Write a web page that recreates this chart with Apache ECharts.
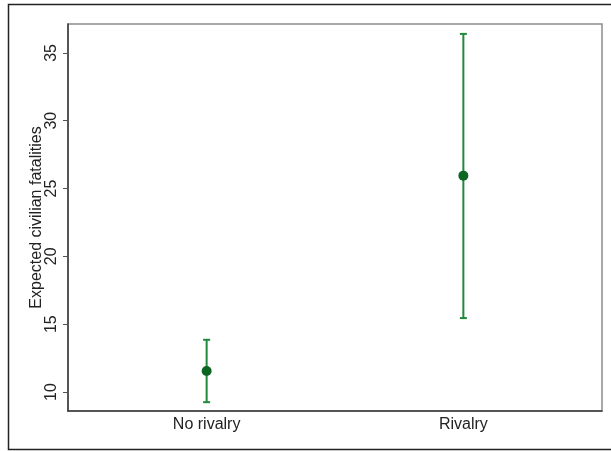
<!DOCTYPE html>
<html>
<head>
<meta charset="utf-8">
<script src="https://cdn.jsdelivr.net/npm/echarts@6/dist/echarts.min.js"></script>
<style>
html,body{margin:0;padding:0;background:#fff;}
#chart{width:611px;height:451px;}
</style>
</head>
<body>
<div id="chart"></div>
<script>
const categories = ["No rivalry", "Rivalry"];
const means = [11.55, 25.95];
const lower = [9.25, 15.45];
const upper = [13.85, 36.4];
const yTicks = [10, 15, 20, 25, 30, 35];
const yTitle = "Expected civilian fatalities";

const chart = echarts.init(document.getElementById('chart'), null, {renderer: 'canvas'});

const barData = categories.map((c, i) => [i, lower[i], upper[i]]);
const pointData = categories.map((c, i) => [i, means[i]]);
const FONT = 'Liberation Sans, Arial, sans-serif';

chart.setOption({
  animation: false,
  backgroundColor: '#ffffff',
  graphic: [{
    type: 'rect',
    shape: {x: 8.5, y: 4.5, width: 620, height: 445},
    style: {fill: 'none', stroke: '#222', lineWidth: 1.5},
    silent: true
  }],
  grid: {
    left: 68, right: 9, top: 24, bottom: 40,
    show: true, borderColor: '#8c8c8c', borderWidth: 1.5, backgroundColor: 'transparent'
  },
  xAxis: {
    type: 'value',
    min: -0.54, max: 1.54,
    splitLine: {show: false},
    axisLine: {show: true, onZero: false, lineStyle: {color: '#3a3a3a', width: 1.5}},
    axisTick: {show: false},
    axisLabel: {
      customValues: [0, 1],
      formatter: v => categories[Math.round(v)] || '',
      color: '#222', fontSize: 16, fontFamily: FONT, margin: 6
    }
  },
  yAxis: {
    type: 'value',
    min: 8.6, max: 37.13,
    name: yTitle,
    nameLocation: 'middle',
    nameGap: 23,
    nameMoveOverlap: false,
    nameTextStyle: {color: '#222', fontSize: 16, fontFamily: FONT},
    splitLine: {show: false},
    axisLine: {show: true, onZero: false, lineStyle: {color: '#3a3a3a', width: 1.5}},
    axisTick: {show: true, customValues: yTicks, length: 5, lineStyle: {color: '#555', width: 1}},
    axisLabel: {
      customValues: yTicks,
      rotate: 90,
      color: '#222', fontSize: 16, fontFamily: FONT, margin: 8
    }
  },
  series: [
    {
      type: 'custom',
      data: barData,
      renderItem: function (params, api) {
        const x = api.value(0);
        const lo = api.coord([x, api.value(1)]);
        const hi = api.coord([x, api.value(2)]);
        const cap = 3.5;
        const style = {stroke: '#1f8a3c', lineWidth: 2};
        return {
          type: 'group',
          children: [
            {type: 'line', shape: {x1: lo[0], y1: lo[1], x2: hi[0], y2: hi[1]}, style: style},
            {type: 'line', shape: {x1: lo[0] - cap, y1: lo[1], x2: lo[0] + cap, y2: lo[1]}, style: style},
            {type: 'line', shape: {x1: hi[0] - cap, y1: hi[1], x2: hi[0] + cap, y2: hi[1]}, style: style}
          ]
        };
      },
      z: 2
    },
    {
      type: 'scatter',
      data: pointData,
      symbol: 'circle',
      symbolSize: 10,
      itemStyle: {color: '#0a6620', opacity: 1},
      z: 3
    }
  ]
});
</script>
</body>
</html>
